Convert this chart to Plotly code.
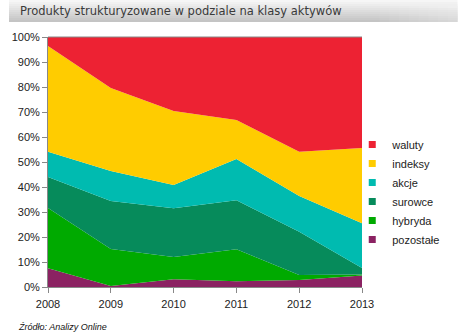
import plotly.graph_objects as go

years = [2008, 2009, 2010, 2011, 2012, 2013]
pozostale = [7.5, 0.4, 3.1, 2.3, 2.8, 4.6]
hybryda = [24.1, 14.8, 8.9, 12.8, 2.0, 0.4]
surowce = [12.4, 19.2, 19.5, 19.6, 17.3, 2.6]
akcje = [10.1, 12.0, 9.3, 16.5, 14.3, 17.9]
indeksy = [42.3, 33.2, 29.6, 15.6, 17.7, 30.1]
waluty = [3.6, 20.4, 29.6, 33.2, 45.9, 44.4]

series = [
    ("pozostałe", pozostale, "#8B2262"),
    ("hybryda", hybryda, "#00AA00"),
    ("surowce", surowce, "#068B5B"),
    ("akcje", akcje, "#00BBB0"),
    ("indeksy", indeksy, "#FFCC00"),
    ("waluty", waluty, "#ED2233"),
]

fig = go.Figure()
for name, vals, col in series:
    fig.add_trace(go.Scatter(
        x=years, y=vals, name=name, stackgroup="one", mode="none",
        fillcolor=col, line=dict(width=0), showlegend=False,
        hoverinfo="skip"))
for name, vals, col in series:
    fig.add_trace(go.Scatter(
        x=[None], y=[None], name=name, mode="markers",
        marker=dict(symbol="square", size=7, color=col),
        legendgroup=name, showlegend=True))

W, H = 460, 335
L, R, T, B = 40, 98, 37, 48
ph = H - T - B

def py(p):
    return (H - B - p) / ph

def px(p):
    return (p - L) / (W - L - R)

shapes = []
# title bar gradient (vertical)
n = 11
top_c = (246, 246, 246)
bot_c = (196, 196, 196)
for i in range(n):
    t = i / (n - 1)
    c = tuple(int(top_c[k] + (bot_c[k] - top_c[k]) * t) for k in range(3))
    shapes.append(dict(type="rect", xref="paper", yref="paper",
                       x0=px(0), x1=px(W), y0=py(i * 2 + 2), y1=py(i * 2),
                       fillcolor="rgb(%d,%d,%d)" % c, line=dict(width=0),
                       layer="below"))
# light fade toward the right end of the title bar
m = 8
for j in range(m):
    shapes.append(dict(type="rect", xref="paper", yref="paper",
                       x0=px(380 + j * 10), x1=px(W), y0=py(22), y1=py(0),
                       fillcolor="rgba(255,255,255,0.06)",
                       line=dict(width=0), layer="below"))

fig.update_layout(
    width=W, height=H,
    margin=dict(l=L, r=R, t=T, b=B),
    paper_bgcolor="white", plot_bgcolor="white",
    font=dict(family="Liberation Sans, Arial, sans-serif", size=11, color="#222"),
    shapes=shapes,
    showlegend=True,
    legend=dict(x=px(352), y=py(130), xanchor="left", yanchor="top",
                traceorder="reversed", font=dict(size=11, color="#222"),
                itemwidth=30, tracegroupgap=9, bgcolor="rgba(0,0,0,0)"),
    annotations=[
        dict(text="Produkty strukturyzowane w podziale na klasy aktywów",
             xref="paper", yref="paper", x=px(9), y=py(11),
             xanchor="left", yanchor="middle", showarrow=False,
             font=dict(family="DejaVu Sans, sans-serif", size=11.5, color="#3a3a3a")),
        dict(text="<i>Źródło: Analizy Online</i>",
             xref="paper", yref="paper", x=px(7), y=py(327),
             xanchor="left", yanchor="middle", showarrow=False,
             font=dict(family="Liberation Sans, Arial, sans-serif", size=9, color="#111")),
    ],
)
fig.update_xaxes(
    range=[2008, 2013], tickmode="array", tickvals=years,
    ticktext=[str(y) for y in years],
    showline=True, linecolor="#888", linewidth=1, mirror=False,
    ticks="outside", ticklen=5, tickcolor="#888", showgrid=False,
    zeroline=False, fixedrange=True, ticklabelstandoff=2,
)
fig.update_yaxes(
    range=[0, 100], tickvals=list(range(0, 101, 10)),
    ticktext=["%d%%" % v for v in range(0, 101, 10)],
    showline=True, linecolor="#888", linewidth=1,
    ticks="outside", ticklen=5, tickcolor="#888", showgrid=False,
    zeroline=False, fixedrange=True,
)
fig.add_shape(type="line", xref="paper", yref="paper", x0=0, x1=1, y0=1, y1=1,
              line=dict(color="#888", width=1))

fig.write_html("out.html")
